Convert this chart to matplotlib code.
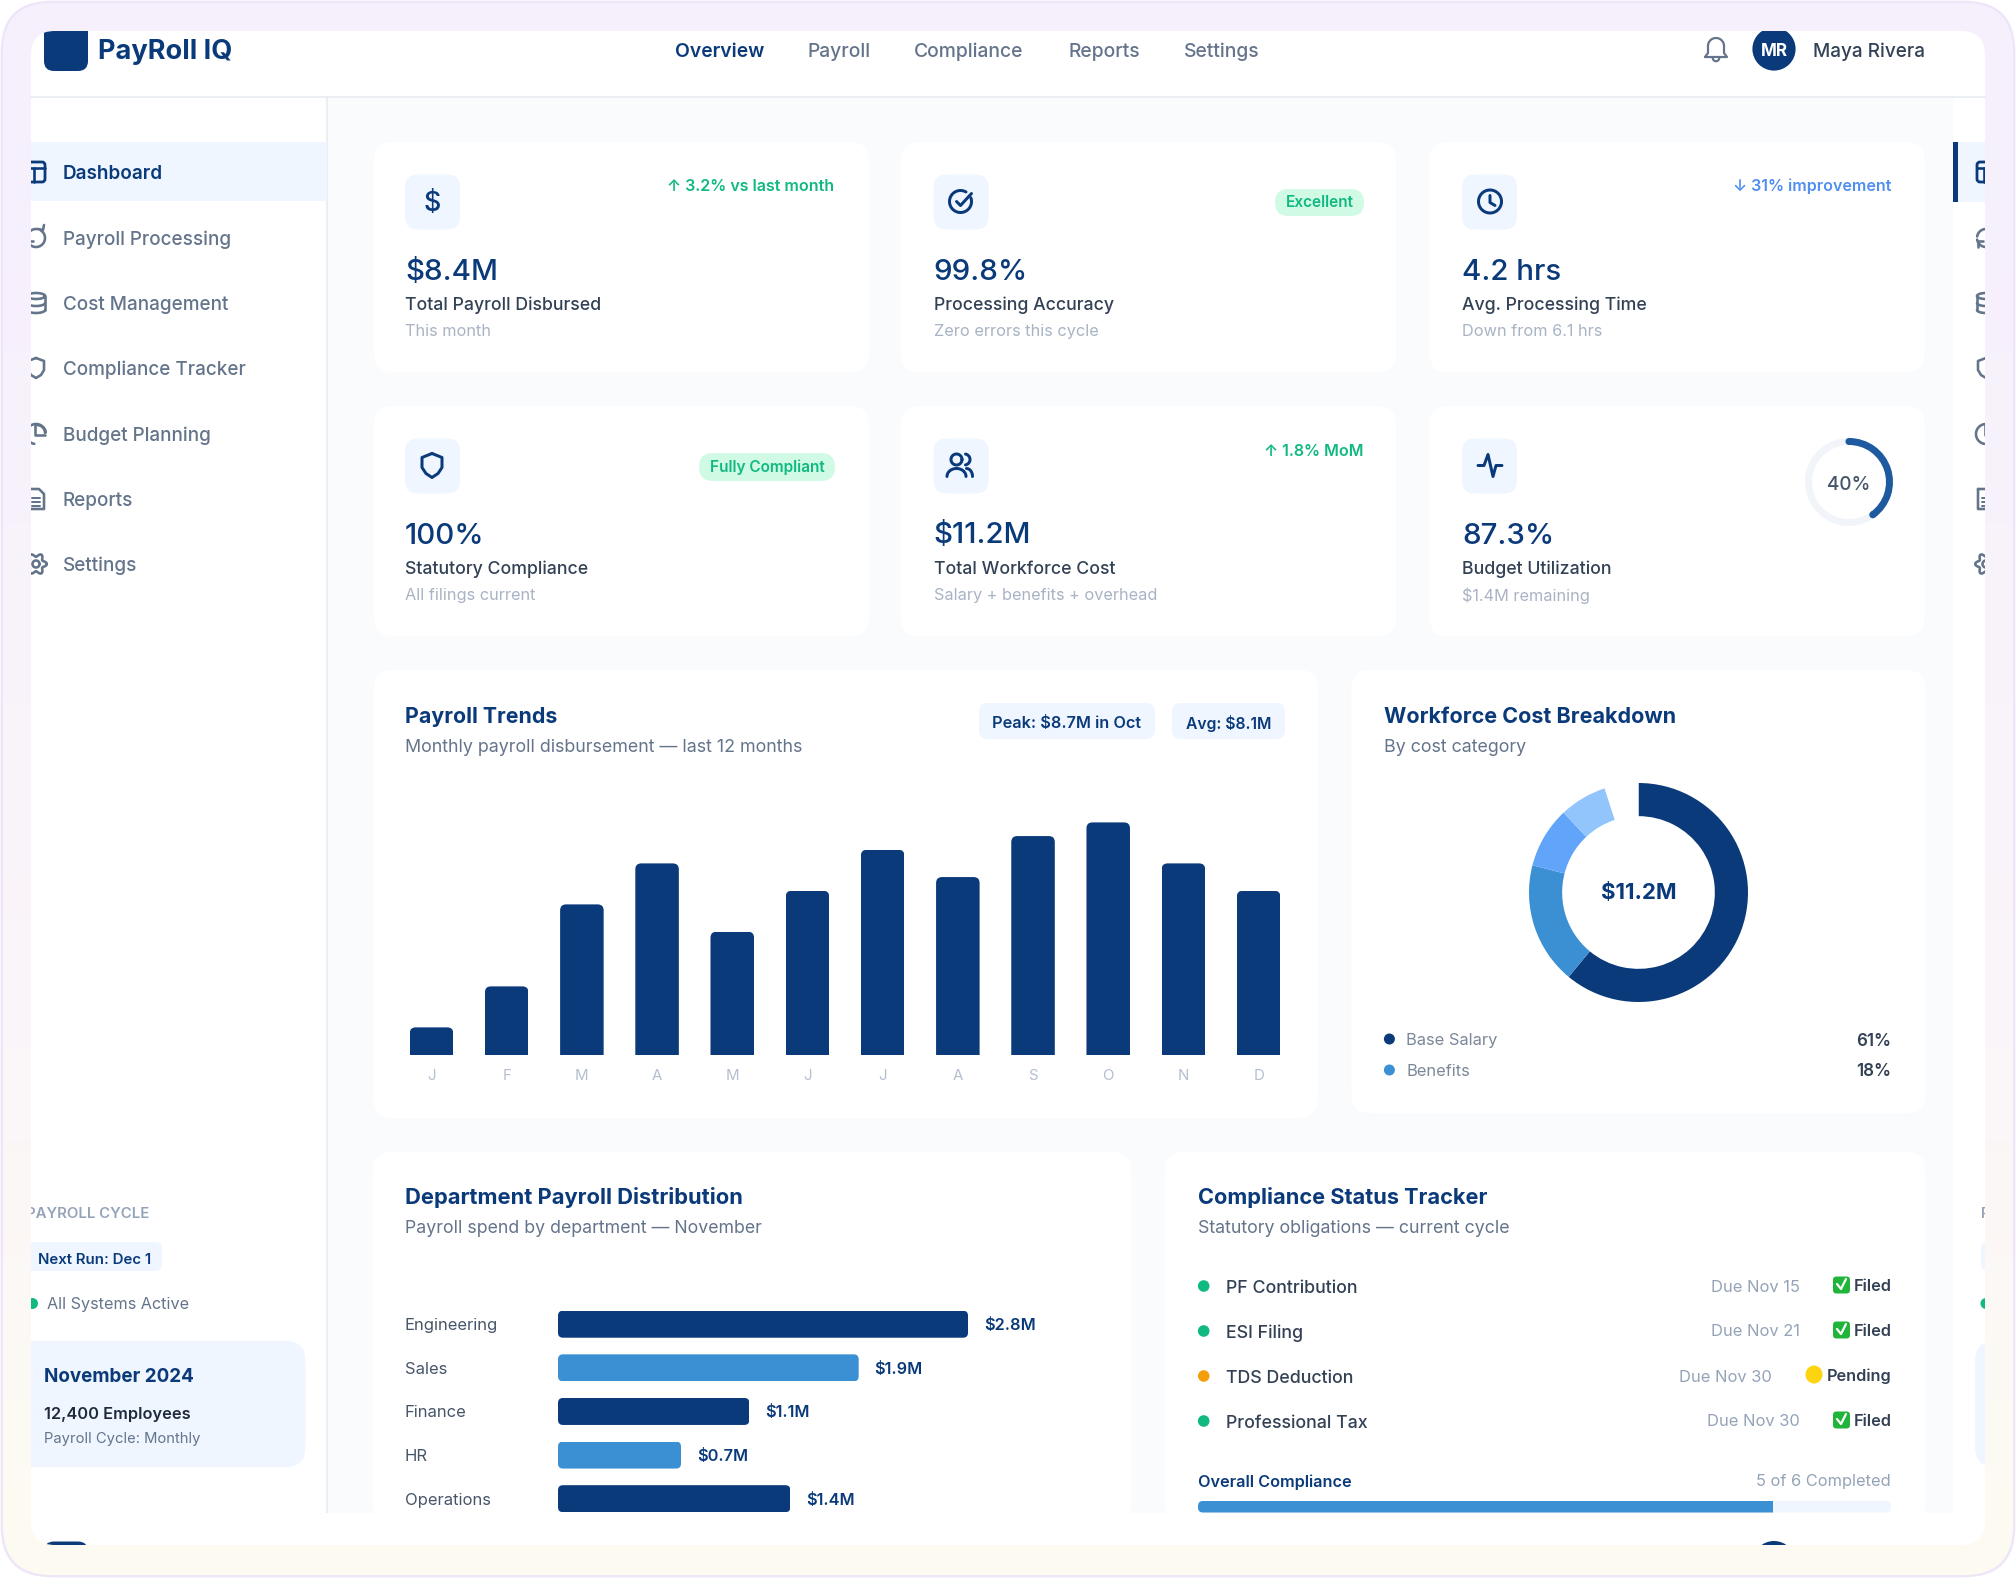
import numpy as np
import matplotlib
matplotlib.use("Agg")
import matplotlib.pyplot as plt
from matplotlib.patches import FancyBboxPatch, Circle, Rectangle, Ellipse
from matplotlib.transforms import IdentityTransform, Bbox
from matplotlib.colors import LinearSegmentedColormap

# ---------- data ----------
months = ["J", "F", "M", "A", "M", "J", "J", "A", "S", "O", "N", "D"]
payroll_m = [7.2, 7.5, 8.1, 8.4, 7.9, 8.2, 8.5, 8.3, 8.6, 8.7, 8.4, 8.2]
payroll_floor = 7.0
cost_labels = ["Base Salary", "Benefits", "Tax", "Overhead", "Other"]
cost_share = [61, 18, 9, 7, 5]
departments = ["Engineering", "Sales", "Finance", "HR", "Operations"]
dept_bar_pct = [75, 55, 35, 22.5, 42.5]
dept_value_labels = ["$2.8M", "$1.9M", "$1.1M", "$0.7M", "$1.4M"]
budget_gauge = [40, 60]
compliance_pct = [83]
nav_items = ["Overview", "Payroll", "Compliance", "Reports", "Settings"]
side_items = ["Dashboard", "Payroll Processing", "Cost Management", "Compliance Tracker",
              "Budget Planning", "Reports", "Settings"]
kpi_values = ["$8.4M", "99.8%", "4.2 hrs", "100%", "$11.2M", "87.3%"]
kpi_labels = ["Total Payroll Disbursed", "Processing Accuracy", "Avg. Processing Time",
              "Statutory Compliance", "Total Workforce Cost", "Budget Utilization"]
kpi_subs = ["This month", "Zero errors this cycle", "Down from 6.1 hrs",
            "All filings current", "Salary + benefits + overhead", "$1.4M remaining"]
comp_names = ["PF Contribution", "ESI Filing", "TDS Deduction", "Professional Tax"]
comp_dues = ["Due Nov 15", "Due Nov 21", "Due Nov 30", "Due Nov 30"]
comp_status = ["Filed", "Filed", "Pending", "Filed"]

# ---------- style ----------
NAVY = "#0a3a7a"
BLUE = "#3b90d4"
PALE = "#eff6ff"
GRAY = "#64748b"
plt.rcParams["font.family"] = ["Inter", "DejaVu Sans"]
W, H = 2016, 1578
fig = plt.figure(figsize=(W / 100, H / 100), dpi=100, facecolor="white")


def axpx(x0, y0, x1, y1, z=2):
    a = fig.add_axes([x0 / W, 1 - y1 / H, (x1 - x0) / W, (y1 - y0) / H], zorder=z)
    a.patch.set_alpha(0)
    return a


bg = axpx(0, 0, W, H, 0)
bg.set_xlim(0, W); bg.set_ylim(H, 0); bg.axis("off")
top = axpx(0, 0, W, H, 5)
top.set_xlim(0, W); top.set_ylim(H, 0); top.axis("off")
WIN_BOX = Bbox([[31, 0], [1985, H]])


def rr(ax, x, y, w, h, r, fc, ec="none", lw=0, z=1, clip=None):
    p = FancyBboxPatch((x + r, y + r), w - 2 * r, h - 2 * r,
                       boxstyle=f"round,pad={r},rounding_size={r}",
                       fc=fc, ec=ec, lw=lw, zorder=z)
    ax.add_patch(p)
    if clip is not None:
        p.set_clip_path(clip)
    return p


def T(x, y, s, px, color="#334155", weight="normal", ha="left", va="center", ax=None, z=6, cut=False, w=None):
    ax = ax or bg
    t = ax.text(x, y + 2, s, fontsize=px * 0.72, color=color, fontweight=weight, ha=ha, va=va, zorder=z)
    if w is not None:
        cur = t.get_window_extent(fig.canvas.get_renderer()).width
        t.set_fontsize(t.get_fontsize() * w / cur)
    if cut:
        t.set_clip_on(True)
        t.set_clip_box(WIN_BOX)
    return t


# outer frame with gradient
outer = rr(bg, 2, 2, W - 4, H - 4, 50, "#f7f1fd", ec="#eee6f8", lw=2, z=0.5)
cm = LinearSegmentedColormap.from_list("f", ["#f6effd", "#f8f2fc", "#fbf6f8", "#fefbf2"])
im = bg.imshow(np.linspace(0, 1, 256)[:, None], extent=(0, W, H, 0), aspect="auto", cmap=cm, zorder=0.6)
im.set_clip_path(rr(bg, 3, 3, W - 6, H - 6, 49, "none", z=0.1))
bg.set_xlim(0, W); bg.set_ylim(H, 0)

# app window
win = rr(bg, 31, 31, 1954, 1514, 24, "white", z=0.7)
winT = FancyBboxPatch((31 + 24, 31 + 24), 1954 - 48, 1514 - 48, boxstyle="round,pad=24,rounding_size=24",
                      transform=bg.transData, fc="none", lw=0)


def clipped(art):
    art.set_clip_path(winT)
    return art


# main background
bg.add_patch(Rectangle((328, 98), 1625, 1415, fc="#f9fbfd", lw=0, zorder=0.8))
bg.plot([31, 1985], [97, 97], color="#e5e9ef", lw=1.1, zorder=0.9)
bg.plot([327, 327], [98, 1513], color="#e5e9ef", lw=1.1, zorder=0.9)
bg.add_patch(Rectangle((31, 142), 296, 59, fc=PALE, lw=0, zorder=1))
clipped(bg.add_patch(Rectangle((1953, 142), 32, 60, fc=PALE, lw=0, zorder=1)))
bg.add_patch(Rectangle((1953, 142), 4.5, 60, fc=NAVY, lw=0, zorder=2))


def L(xs, ys, c, lw=2.6, z=4, ax=None, clip=True):
    ax = ax or bg
    ln, = ax.plot(xs, ys, color=c, lw=lw * 0.72, solid_capstyle="round", solid_joinstyle="round", zorder=z)
    if clip:
        clipped(ln)
    return ln


def arc(cx, cy, r, a0, a1, c, lw=2.6, ry=None, clip=True, z=4):
    th = np.radians(np.linspace(a0, a1, 60))
    return L(cx + r * np.cos(th), cy + (ry or r) * np.sin(th), c, lw, clip=clip, z=z)


def side_icon(kind, cx, cy, c):
    if kind == 0:
        clipped(rr(bg, cx - 9, cy - 10, 18, 20, 3, "none", ec=c, lw=2, z=4))
        L([cx - 9, cx + 9], [cy - 4, cy - 4], c)
        L([cx - 2, cx - 2], [cy - 4, cy + 10], c)
    elif kind == 1:
        arc(cx, cy, 9, -60, 170, c)
        arc(cx, cy, 9, 190, 280, c)
        L([cx + 2, cx + 7, cx + 8], [cy - 9, cy - 8, cy - 13], c)
        L([cx - 8, cx - 8, cx - 3], [cy + 9, cy + 3, cy + 3], c)
    elif kind == 2:
        arc(cx, cy - 7, 9, 0, 360, c, ry=3)
        L([cx + 9, cx + 9], [cy - 7, cy + 7], c)
        L([cx - 9, cx - 9], [cy - 7, cy + 7], c)
        arc(cx, cy, 9, 0, 180, c, ry=3)
        arc(cx, cy + 7, 9, 0, 180, c, ry=3)
    elif kind == 3:
        L([cx, cx + 8, cx + 8, cx + 5, cx, cx - 5, cx - 8, cx - 8, cx],
          [cy - 10, cy - 7, cy + 2, cy + 7, cy + 10, cy + 7, cy + 2, cy - 7, cy - 10], c)
    elif kind == 4:
        arc(cx, cy, 10, 100, 350, c)
        arc(cx + 1, cy - 1, 8, -90, 0, c)
        L([cx - 1, cx - 1, cx + 9], [cy - 10, cy + 1, cy + 1], c)
    elif kind == 5:
        L([cx - 8, cx + 3, cx + 8, cx + 8, cx - 8, cx - 8], [cy - 10, cy - 10, cy - 5, cy + 10, cy + 10, cy - 10], c)
        for d in (-1, 3, 7):
            L([cx - 4, cx + 4], [cy + d, cy + d], c, 2)
    else:
        th = np.radians(np.arange(0, 361, 5))
        rad = 9 + 1.8 * np.cos(6 * th)
        L(cx + rad * np.cos(th), cy + rad * np.sin(th), c)
        arc(cx, cy, 3.5, 0, 360, c)


side_y = [172, 238, 303, 368, 434, 499, 564]
for i, (s, y) in enumerate(zip(side_items, side_y)):
    c = NAVY if i == 0 else "#64748b"
    T(63, y - 0.5, s, 18.9, c, "semibold" if i == 0 else "medium")
    side_icon(i, 36, y, c)
    side_icon(i, 1986, y, c)

# header
clipped(rr(bg, 44, 20, 44, 51, 10, NAVY, z=3))
T(98.5, 49.5, "PayRoll IQ", 27, NAVY, "bold", w=134)
for s, x, i in zip(nav_items, [719.4, 839, 969, 1104, 1222], range(5)):
    T(x, 50, s, 19.3, NAVY if i == 0 else GRAY, "semibold" if i == 0 else "medium", ha="center")
# bell
c = "#64748b"
L([1705, 1708, 1708], [57, 53, 46], c, 2.2)
arc(1716, 46, 8, 180, 360, c, 2.2)
L([1724, 1724, 1727, 1705], [46, 53, 57, 57], c, 2.2)
arc(1716, 58, 3.2, 0, 180, c, 2.2)
clipped(bg.add_patch(Circle((1774, 49), 21.6, fc=NAVY, lw=0, zorder=3)))
T(1774, 49.5, "MR", 17, "white", "bold", ha="center")
T(1812.6, 50, "Maya Rivera", 19, "#334155", "medium")

# KPI cards
card_x = [374, 901, 1429.5]
card_w = 495
tx = [405, 933.6, 1462]
for r, cy in enumerate([142, 406]):
    for k in range(3):
        i = r * 3 + k
        rr(bg, card_x[k], cy, card_w, 230, 18, "white")
        rr(bg, tx[k], cy + 32.5, 55, 55, 13, PALE, z=2)
        T(tx[k], cy + 128, kpi_values[i], 29.5, NAVY, "medium")
        T(tx[k], cy + 161, kpi_labels[i], 17.7, "#334155", "medium")
        T(tx[k], cy + 187.5, kpi_subs[i], 16.3, "#a8b3c4")

# card icons
T(432, 202, "$", 27, NAVY, "medium", ha="center")
cx, cy = 960.5, 201.5
arc(cx, cy, 11, -20, 300, NAVY, 3)
L([cx - 4, cx, cx + 11], [cy, cy + 4, cy - 8], NAVY, 3)
cx, cy = 1490, 201.5
arc(cx, cy, 11.5, 0, 360, NAVY, 3)
L([cx, cx, cx + 5], [cy - 6, cy + 1, cy + 4], NAVY, 3)
cx, cy = 432, 465.5
L([cx, cx + 10, cx + 10, cx + 6, cx, cx - 6, cx - 10, cx - 10, cx],
  [cy - 12, cy - 8, cy + 2, cy + 8, cy + 12, cy + 8, cy + 2, cy - 8, cy - 12], NAVY, 3)
cx, cy = 960.5, 465.5
arc(cx - 4, cy - 6, 5.5, 0, 360, NAVY, 3)
arc(cx - 4, cy + 11, 9.5, 180, 360, NAVY, 3, ry=8)
arc(cx + 4, cy - 6, 5.5, -80, 80, NAVY, 3)
arc(cx + 6, cy + 11, 6, 270, 360, NAVY, 3, ry=8)
cx, cy = 1490, 465.5
L([cx - 12, cx - 6, cx - 2, cx + 3, cx + 6, cx + 12], [cy, cy, cy - 11, cy + 11, cy, cy], NAVY, 3)

# KPI badges
T(834, 184.5, "↑ 3.2% vs last month", 16, "#10b981", "semibold", ha="right")
T(1363, 449, "↑ 1.8% MoM", 16, "#10b981", "semibold", ha="right")
T(1891.5, 184.5, "↓ 31% improvement", 16, "#4f8ff0", "semibold", ha="right")
rr(bg, 1275, 189, 89, 27, 13.5, "#d1fae5", z=2)
T(1319.5, 200.5, "Excellent", 15.4, "#10b981", "semibold", ha="center")
rr(bg, 699, 453, 136, 28, 14, "#d1fae5", z=2)
T(767, 465, "Fully Compliant", 15.4, "#10b981", "semibold", ha="center")

# gauge
ga = axpx(1849 - 44, 482 - 44, 1849 + 44, 482 + 44)
ga.pie(budget_gauge, colors=["#1e5aa0", "#f1f5f9"], startangle=90, counterclock=False,
       radius=1, wedgeprops=dict(width=7 / 44, lw=0))
ga.set_xlim(-1, 1); ga.set_ylim(-1, 1)
for ang in (90, 90 - 360 * budget_gauge[0] / sum(budget_gauge)):
    ga.add_patch(Circle((np.cos(np.radians(ang)) * 0.92, np.sin(np.radians(ang)) * 0.92), 0.08, fc="#1e5aa0", lw=0))
T(1849, 482.5, "40%", 19, "#475569", "medium", ha="center")

# payroll trends card
rr(bg, 374, 670, 944, 448, 18, "white")
T(405, 714.5, "Payroll Trends", 22, NAVY, "bold", w=152)
T(405, 745.5, "Monthly payroll disbursement — last 12 months", 18, GRAY, w=398)
rr(bg, 979, 703, 176, 36, 9, PALE, z=2)
T(1067, 721, "Peak: $8.7M in Oct", 16.7, NAVY, "semibold", ha="center", w=149)
rr(bg, 1172, 703, 113, 36, 9, PALE, z=2)
T(1228.5, 721, "Avg: $8.1M", 16.7, NAVY, "semibold", ha="center", w=86)

ta = axpx(393.9, 822.4, 1296.2, 1054.7)
ta.set_xlim(-0.5, 11.5); ta.set_ylim(payroll_floor, max(payroll_m))
tbars = ta.bar(range(12), payroll_m, width=0.579, color=NAVY, lw=0)
ta.set_xticks(range(12)); ta.set_xticklabels(months, fontsize=15 * 0.72, color="#b4bfcf")
ta.tick_params(axis="x", length=0, pad=10.5)
ta.set_yticks([])
for s in ta.spines.values():
    s.set_visible(False)


def round_bars(a, bars, r, top_only=False):
    for b in bars:
        (x0, y0), (x1, y1) = a.transData.transform([(b.get_x(), b.get_y()), (b.get_x() + b.get_width(), b.get_y() + b.get_height())])
        x0, x1 = min(x0, x1), max(x0, x1)
        y0, y1 = min(y0, y1), max(y0, y1)
        if top_only:
            y0 -= 2 * r
        p = FancyBboxPatch((x0 + r, y0 + r), x1 - x0 - 2 * r, y1 - y0 - 2 * r,
                           boxstyle=f"round,pad={r},rounding_size={r}", transform=IdentityTransform(), lw=0)
        b.set_clip_path(p)


round_bars(ta, tbars, 6, top_only=True)

# workforce card
rr(bg, 1351.5, 670, 574, 443, 18, "white")
T(1384, 714.5, "Workforce Cost Breakdown", 22, NAVY, "bold", w=292)
T(1384, 745.5, "By cost category", 18, GRAY, w=142)
da = axpx(1638.5 - 109.5, 892.5 - 109.5, 1638.5 + 109.5, 892.5 + 109.5)
da.pie(cost_share, colors=[NAVY, BLUE, "#60a5fa", "#93c5fd", "white"], startangle=90, counterclock=False,
       radius=1, wedgeprops=dict(width=33 / 109, lw=0))
da.set_xlim(-1, 1); da.set_ylim(-1, 1)
T(1638.5, 890.5, "$11.2M", 23, NAVY, "bold", ha="center", w=75)
for i, (y, c) in enumerate(zip([1039, 1070], [NAVY, BLUE])):
    bg.add_patch(Circle((1389.4, y), 5.5, fc=c, lw=0, zorder=3))
    T(1406, y, cost_labels[i], 16.5, "#7c8899")
    T(1891.5, y, f"{cost_share[i]}%", 17, "#334155", "semibold", ha="right")

# department card (runs under the footer band)
rr(bg, 373, 1152, 758, 375, 18, "white")
T(405, 1195, "Department Payroll Distribution", 22, NAVY, "bold", w=338)
T(405, 1226.5, "Payroll spend by department — November", 18, GRAY, w=356)
ha_ = axpx(558, 1302.4, 558 + 546.7, 1520.5)
ha_.set_xlim(0, 100); ha_.set_ylim(4.5, -0.5)
hb = ha_.barh(range(5), dept_bar_pct, height=27 / 43.6, color=[NAVY, BLUE, NAVY, BLUE, NAVY], lw=0)
ha_.set_xticks([])
ha_.set_yticks(range(5)); ha_.set_yticklabels(departments, fontsize=16.6 * 0.72, color="#475569", ha="left")
ha_.tick_params(axis="y", length=0, pad=153 * 0.72)
for s in ha_.spines.values():
    s.set_visible(False)
for i, (v, s) in enumerate(zip(dept_bar_pct, dept_value_labels)):
    ha_.annotate(s, (v, i), xytext=(16 * 0.72, -1), textcoords="offset points", va="center",
                 fontsize=16.3 * 0.72, color=NAVY, fontweight="semibold")
round_bars(ha_, hb, 5)

# compliance card (runs under the footer band)
rr(bg, 1165, 1152, 760, 375, 18, "white")
T(1198, 1195, "Compliance Status Tracker", 22, NAVY, "bold", w=289)
T(1198, 1226.5, "Statutory obligations — current cycle", 18, GRAY, w=312)
row_y = [1286, 1331, 1376, 1421]
due_right = [1800, 1800, 1772, 1800]
for i, y in enumerate(row_y):
    pending = comp_status[i] == "Pending"
    bg.add_patch(Circle((1203.7, y), 5.8, fc="#f59e0b" if pending else "#10b981", lw=0, zorder=3))
    T(1225.5, y + 0.7, comp_names[i], 17.8, "#334155", "medium")
    T(due_right[i], y - 1, comp_dues[i], 16.5, "#94a3b8", ha="right")
    T(1892, y - 1.5, comp_status[i], 16.3, "#334155", "semibold", ha="right")
    if pending:
        bg.add_patch(Ellipse((1814, y - 1.5), 17, 18, fc="#fdd40f", lw=0, zorder=3))
    else:
        rr(bg, 1833, y - 9.5, 17, 17, 3.5, "#20b53a", z=3)
        L([1837, 1841, 1846], [y - 2, y + 3, y - 7], "white", 2.2, clip=False)

T(1198, 1480, "Overall Compliance", 16.7, NAVY, "semibold", w=153.6)
T(1891, 1479.5, "5 of 6 Completed", 16.4, "#94a3b8", ha="right")
pa = axpx(1198, 1501, 1891, 1512.5)
pa.axis("off")
pa.barh([0.5], [100], height=1, color=PALE, lw=0)
pa.barh([0.5], compliance_pct, height=1, color=BLUE, lw=0)
pa.set_xlim(0, 100); pa.set_ylim(0, 1)
(x0, y0), (x1, y1) = pa.transAxes.transform([(0, 0), (1, 1)])
for b in list(pa.patches):
    b.set_clip_path(FancyBboxPatch((x0 + 5, y0 + 5), x1 - x0 - 10, y1 - y0 - 10,
                                   boxstyle="round,pad=5,rounding_size=5", transform=IdentityTransform(), lw=0))

# left sidebar bottom
T(26, 1212.5, "PAYROLL CYCLE", 14.5, "#94a3b8", "semibold", cut=True, w=123)
clipped(rr(bg, 20, 1242, 142, 29, 7, PALE, z=2))
T(38.5, 1257.5, "Next Run: Dec 1", 14.5, NAVY, "semibold", w=112.5)
clipped(bg.add_patch(Circle((32.5, 1303.5), 5.5, fc="#10b981", lw=0, zorder=3)))
T(47, 1303, "All Systems Active", 15.5, GRAY, w=142)
clipped(rr(bg, 10, 1341, 295.5, 126, 20, PALE, z=2))
T(43.6, 1375, "November 2024", 19.3, NAVY, "bold", w=150)
T(43.6, 1412.5, "12,400 Employees", 16.7, "#1e293b", "semibold", w=146)
T(43.6, 1437.5, "Payroll Cycle: Monthly", 14.5, GRAY, w=157)

# right sidebar (window cuts it off, as in the reference)
T(1981, 1212.5, "P", 14.5, "#94a3b8", "semibold", cut=True)
clipped(rr(bg, 1981, 1242, 142, 29, 7, PALE, z=2))
clipped(bg.add_patch(Circle((1986, 1303.5), 5.5, fc="#10b981", lw=0, zorder=3)))
clipped(rr(bg, 1975, 1341, 200, 126, 20, PALE, z=2))

# footer band above scrolled content
band = top.add_patch(Rectangle((31, 1513), 1954, 32, fc="white", lw=0, zorder=1))
band.set_clip_path(winT)
for art in (rr(top, 44, 1541.5, 44, 30, 10, NAVY, z=2),
            top.add_patch(Circle((1774, 1562.5), 21.5, fc=NAVY, lw=0, zorder=2))):
    art.set_clip_path(winT)

fig.savefig("out.png", dpi=100)
